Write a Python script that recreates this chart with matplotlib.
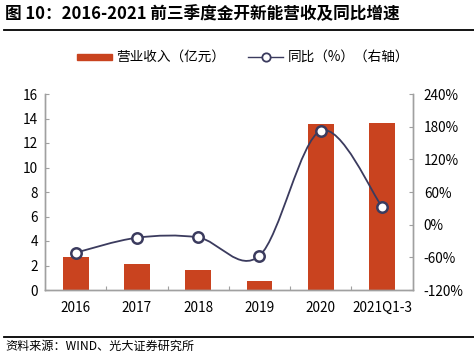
import matplotlib
matplotlib.use("Agg")
import matplotlib.pyplot as plt
from matplotlib.lines import Line2D
from matplotlib.patches import PathPatch, Rectangle
from matplotlib.path import Path

plt.rcParams["font.family"] = ["Noto Sans CJK SC", "DejaVu Sans"]

# 数据
years = ["2016", "2017", "2018", "2019", "2020", "2021Q1-3"]
revenue = [2.72, 2.10, 1.63, 0.73, 13.55, 13.66]   # 亿元
yoy = [-51.5, -24.0, -23.5, -57.0, 172.5, 33.0]   # %

BAR = "#C9431F"
LINE = "#3B3B5E"
GREY = "#A0A0A0"

W, H = 474, 356
fig = plt.figure(figsize=(W / 100, H / 100), dpi=100)


def fx(px):
    return px / W


def fy(py):
    return 1 - py / H


ax = fig.add_axes([fx(45), fy(290), fx(412.7) - fx(45), fy(94) - fy(290)])
ax2 = ax.twinx()

x = list(range(len(years)))
ax.bar(x, revenue, width=0.42, color=BAR, zorder=2)
ax.set_xlim(-0.5, len(years) - 0.5)
ax.set_ylim(0, 16)
ax.set_yticks(range(0, 17, 2))

# 分类标签在中间, 刻度在分界处
ax.set_xticks([i + 0.5 for i in x[:-1]])
ax.set_xticklabels([])
ax.set_xticks(x, minor=True)
ax.set_xticklabels(years, minor=True)
ax.tick_params(axis="x", which="major", direction="in", length=3, color=GREY)
ax.tick_params(axis="x", which="minor", length=0, pad=8, labelsize=9.8)
ax.tick_params(axis="y", direction="in", length=3, color=GREY, pad=5, labelsize=9.8)

ax2.set_ylim(-120, 240)
ax2.set_yticks(range(-120, 241, 60))
ax2.set_yticklabels([f"{v}%" for v in range(-120, 241, 60)])
ax2.tick_params(axis="y", direction="in", length=3, color=GREY, pad=8, labelsize=9.8)

for a in (ax, ax2):
    a.spines["top"].set_visible(False)
    for s in ("left", "right", "bottom"):
        a.spines[s].set_color(GREY)
        a.spines[s].set_linewidth(1.0)

# 平滑曲线 (Catmull-Rom -> Bezier)
pts = list(zip(x, yoy))
verts = [pts[0]]
codes = [Path.MOVETO]
for i in range(len(pts) - 1):
    p0 = pts[i - 1] if i > 0 else pts[i]
    p1, p2 = pts[i], pts[i + 1]
    p3 = pts[i + 2] if i + 2 < len(pts) else pts[i + 1]
    c1 = (p1[0] + (p2[0] - p0[0]) / 6, p1[1] + (p2[1] - p0[1]) / 6)
    c2 = (p2[0] - (p3[0] - p1[0]) / 6, p2[1] - (p3[1] - p1[1]) / 6)
    verts += [c1, c2, p2]
    codes += [Path.CURVE4] * 3
ax2.add_patch(PathPatch(Path(verts, codes), facecolor="none", edgecolor=LINE, lw=1.3, zorder=3))
ax2.plot(x, yoy, ls="none", marker="o", ms=7.5, mfc="white", mec=LINE, mew=1.8, zorder=4)

# 标题与分隔线
fig.text(fx(5), fy(14), "图 10：2016-2021 前三季度金开新能营收及同比增速",
         fontsize=12, fontweight="bold", va="center", ha="left")
fig.add_artist(Line2D([fx(4), fx(474)], [fy(29.5), fy(29.5)], color="black", lw=1.3))
fig.add_artist(Line2D([fx(4), fx(474)], [fy(336.5), fy(336.5)], color="black", lw=1.3))
fig.text(fx(5), fy(346), "资料来源：WIND、光大证券研究所", fontsize=8.7, va="center", ha="left")

# 图例
fig.add_artist(Rectangle((fx(77), fy(60)), fx(112) - fx(77), fy(54) - fy(60), color=BAR,
                         transform=fig.transFigure))
fig.text(fx(116), fy(57), "营业收入（亿元）", fontsize=9.8, va="center", ha="left")
fig.add_artist(Line2D([fx(248), fx(283)], [fy(57), fy(57)], color=LINE, lw=1.0))
fig.add_artist(Line2D([fx(265.5)], [fy(57)], ls="none", marker="o", ms=6, mfc="white",
                      mec=LINE, mew=1.3))
fig.text(fx(288), fy(57), "同比（%）（右轴）", fontsize=9.8, va="center", ha="left")

fig.savefig("out.png", dpi=100)
